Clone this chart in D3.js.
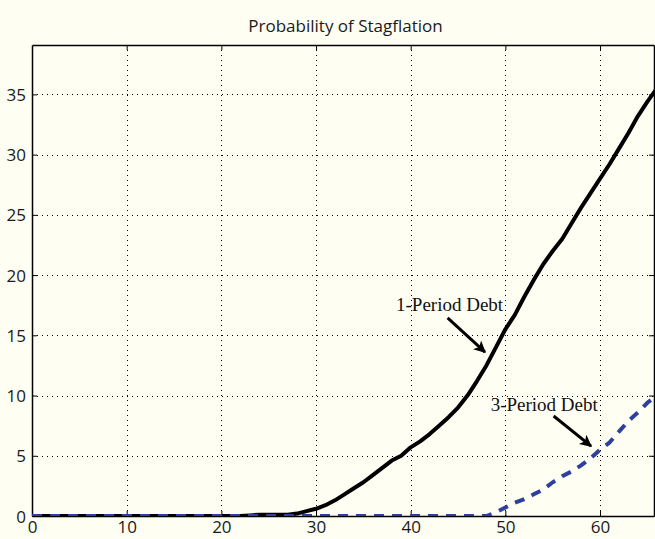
<!DOCTYPE html>
<html>
<head>
<meta charset="utf-8">
<script src="https://cdn.jsdelivr.net/npm/d3@7"></script>
<style>
  html, body { margin: 0; padding: 0; background: #fefef3; }
  svg { display: block; }
</style>
</head>
<body>
<svg id="chart"></svg>
<script>
const width = 655;
const height = 539;

// Values
const periods = d3.range(0, 67);
const oneDebt = [
  0, 0, 0, 0, 0, 0, 0, 0, 0, 0,
  0, 0, 0, 0, 0, 0, 0, 0, 0, 0,
  0, 0, 0, 0.05, 0.1, 0.1, 0.1, 0.1, 0.2, 0.4,
  0.6, 0.9, 1.3, 1.8, 2.3, 2.8, 3.4, 4.0, 4.6, 5.0,
  5.7, 6.2, 6.8, 7.5, 8.2, 9.0, 10.0, 11.2, 12.5, 14.0,
  15.5, 16.7, 18.2, 19.6, 20.9, 22.0, 23.0, 24.3, 25.6, 26.8,
  28.0, 29.2, 30.5, 31.8, 33.2, 34.4, 35.5
];
const threeDebt = [
  0, 0, 0, 0, 0, 0, 0, 0, 0, 0,
  0, 0, 0, 0, 0, 0, 0, 0, 0, 0,
  0, 0, 0, 0, 0, 0, 0, 0, 0, 0,
  0, 0, 0, 0, 0, 0, 0, 0, 0, 0,
  0, 0, 0, 0, 0, 0, 0, 0, 0, 0.3,
  0.7, 1.1, 1.4, 1.8, 2.2, 2.8, 3.3, 3.7, 4.2, 4.8,
  5.5, 6.1, 7.0, 7.9, 8.6, 9.4, 10.0
];
const xTicks = [0, 10, 20, 30, 40, 50, 60];
const yTicks = [0, 5, 10, 15, 20, 25, 30, 35];
const notes = [
  {label: "1-Period Debt", tx: 38.45, ty: 17.0, from: [43.9, 16.45], to: [47.85, 13.6]},
  {label: "3-Period Debt", tx: 48.45, ty: 8.7, from: [55.1, 8.3], to: [59.05, 5.8]}
];

const margin = {top: 45, right: 1, bottom: 23, left: 32};

const x = d3.scaleLinear()
    .domain([0, 65.7])
    .range([margin.left, width - margin.right]);
const y = d3.scaleLinear()
    .domain([0, 39.1])
    .range([height - margin.bottom, margin.top]);

const svg = d3.select("#chart")
    .attr("width", width)
    .attr("height", height)
    .attr("viewBox", [0, 0, width, height]);

const defs = svg.append("defs");
defs.append("clipPath")
    .attr("id", "plot-clip")
  .append("rect")
    .attr("x", margin.left)
    .attr("y", margin.top)
    .attr("width", width - margin.left - margin.right)
    .attr("height", height - margin.top - margin.bottom);

// Dotted grid
svg.append("g")
    .attr("stroke", "#000")
    .attr("stroke-width", 1)
    .attr("stroke-dasharray", "1,4")
    .selectAll("line")
    .data(xTicks.slice(1))
    .join("line")
    .attr("x1", d => Math.round(x(d)) + 0.5)
    .attr("x2", d => Math.round(x(d)) + 0.5)
    .attr("y1", margin.top)
    .attr("y2", height - margin.bottom);

svg.append("g")
    .attr("stroke", "#000")
    .attr("stroke-width", 1)
    .attr("stroke-dasharray", "1,4")
    .selectAll("line")
    .data(yTicks.slice(1))
    .join("line")
    .attr("x1", margin.left)
    .attr("x2", width - margin.right)
    .attr("y1", d => Math.round(y(d)) + 0.5)
    .attr("y2", d => Math.round(y(d)) + 0.5);

// Axes: ticks pointing inward, mirrored on top and right
const bottomAxis = svg.append("g")
    .attr("transform", `translate(0,${height - margin.bottom})`)
    .call(d3.axisBottom(x).tickValues(xTicks).tickSizeInner(-5).tickSizeOuter(0).tickPadding(6));
const topAxis = svg.append("g")
    .attr("transform", `translate(0,${margin.top})`)
    .call(d3.axisTop(x).tickValues(xTicks.slice(1)).tickSizeInner(-5).tickSizeOuter(0).tickFormat(""));
const leftAxis = svg.append("g")
    .attr("transform", `translate(${margin.left},0)`)
    .call(d3.axisLeft(y).tickValues(yTicks).tickSizeInner(-5).tickSizeOuter(0).tickPadding(6));
const rightAxis = svg.append("g")
    .attr("transform", `translate(${width - margin.right},0)`)
    .call(d3.axisRight(y).tickValues(yTicks).tickSizeInner(-5).tickSizeOuter(0).tickFormat(""));

[bottomAxis, topAxis, leftAxis, rightAxis].forEach(g => {
  g.select(".domain").attr("stroke", "#000").attr("stroke-width", 1.5);
  g.selectAll(".tick line").attr("stroke", "#000").attr("stroke-width", 1);
  g.selectAll("text")
      .attr("fill", "#1a1a1a")
      .style("font-family", "'Open Sans', sans-serif")
      .style("font-size", "17px");
});
bottomAxis.selectAll("text").attr("dy", "0.62em");
leftAxis.selectAll("text").attr("dy", "0.36em");

const line = d3.line()
    .x((d, i) => x(periods[i]))
    .y(d => y(d));

const plot = svg.append("g").attr("clip-path", "url(#plot-clip)");

plot.append("path")
    .datum(oneDebt)
    .attr("fill", "none")
    .attr("stroke", "#000")
    .attr("stroke-width", 4)
    .attr("stroke-linejoin", "round")
    .attr("d", line);

plot.append("path")
    .datum(threeDebt)
    .attr("fill", "none")
    .attr("stroke", "#2f3f9d")
    .attr("stroke-width", 4)
    .attr("stroke-dasharray", "10,8")
    .attr("d", line);

// Title
svg.append("text")
    .attr("x", 345.5)
    .attr("y", 32)
    .attr("text-anchor", "middle")
    .attr("fill", "#1a1a1a")
    .style("font-family", "'Open Sans', sans-serif")
    .style("font-size", "17px")
    .text("Probability of Stagflation");

// Annotations with arrows
defs.append("marker")
    .attr("id", "head")
    .attr("viewBox", "0 0 10 10")
    .attr("refX", 9)
    .attr("refY", 5)
    .attr("markerWidth", 14)
    .attr("markerHeight", 12)
    .attr("markerUnits", "userSpaceOnUse")
    .attr("orient", "auto")
  .append("path")
    .attr("d", "M0,0L10,5L0,10L2.5,5z")
    .attr("fill", "#000");

const note = svg.append("g").selectAll("g")
    .data(notes)
    .join("g");

note.append("text")
    .attr("x", d => x(d.tx))
    .attr("y", d => y(d.ty))
    .attr("fill", "#111")
    .style("font-family", "'Liberation Serif', 'Times New Roman', serif")
    .style("font-size", "19px")
    .text(d => d.label);

note.append("line")
    .attr("x1", d => x(d.from[0]))
    .attr("y1", d => y(d.from[1]))
    .attr("x2", d => x(d.to[0]))
    .attr("y2", d => y(d.to[1]))
    .attr("stroke", "#000")
    .attr("stroke-width", 3)
    .attr("marker-end", "url(#head)");
</script>
</body>
</html>
